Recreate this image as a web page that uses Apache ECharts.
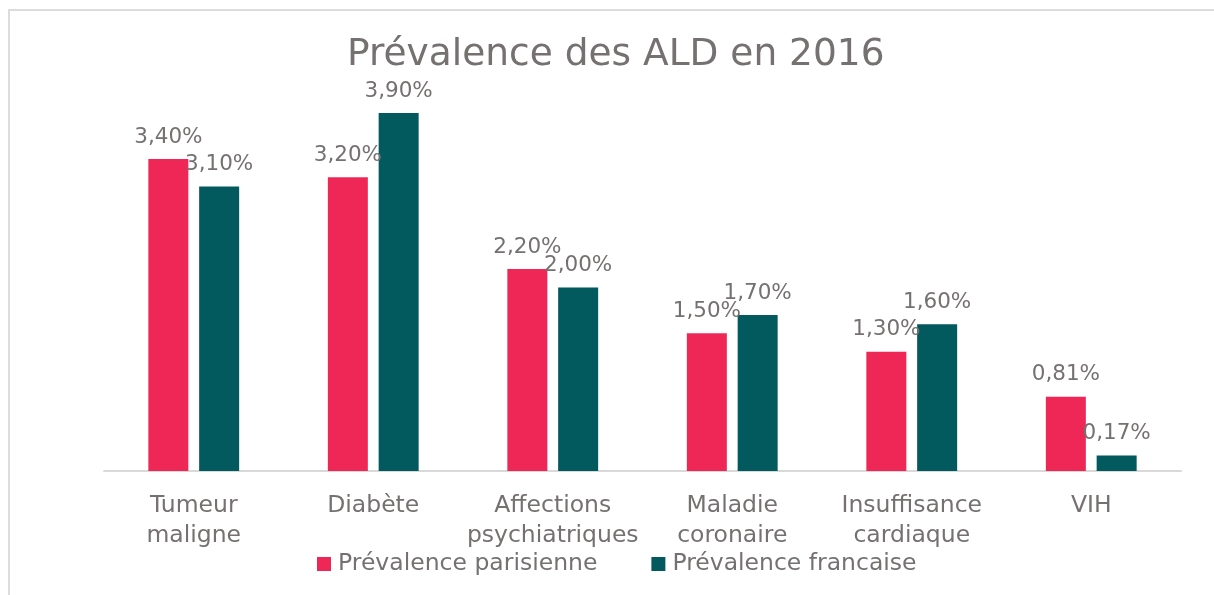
<!DOCTYPE html>
<html>
<head>
<meta charset="utf-8">
<script src="https://cdn.jsdelivr.net/npm/echarts@6/dist/echarts.min.js"></script>
<style>
  html, body { margin: 0; padding: 0; background: #fff; overflow: hidden; width: 1214px; height: 595px; }
  .edge { position: absolute; background: #dcdcdc; }
  #edgeTop { left: 8px; top: 9px; width: 1206px; height: 2px; }
  #edgeLeft { left: 8px; top: 9px; width: 2px; height: 586px; }
  #chart { position: absolute; left: 0; top: 0; width: 1214px; height: 595px; }
</style>
</head>
<body>
<div class="edge" id="edgeTop"></div>
<div class="edge" id="edgeLeft"></div>
<div id="chart"></div>
<script>
// données
const categories = ['Tumeur maligne', 'Diabète', 'Affections psychiatriques', 'Maladie coronaire', 'Insuffisance cardiaque', 'VIH'];
const parisValues = [3.40, 3.20, 2.20, 1.50, 1.30, 0.81];
const franceValues = [3.10, 3.90, 2.00, 1.70, 1.60, 0.17];
const seriesNames = ['Prévalence parisienne', 'Prévalence francaise'];

const textColor = '#767171';
const font = 'DejaVu Sans, Verdana, sans-serif';

function pct(v) {
  return v.toFixed(2).replace('.', ',') + '%';
}

const chart = echarts.init(document.getElementById('chart'));

const barLabel = {
  show: true,
  position: 'top',
  distance: 11,
  color: textColor,
  fontFamily: font,
  fontSize: 21.5,
  formatter: p => pct(p.value)
};

chart.setOption({
  animation: false,
  title: {
    text: 'Prévalence des ALD en 2016',
    left: 342,
    top: 31,
    textStyle: { color: textColor, fontFamily: font, fontSize: 37.5, fontWeight: 'normal' }
  },
  legend: {
    data: seriesNames,
    top: 547,
    left: 312,
    itemWidth: 14,
    itemHeight: 14,
    itemGap: 54,
    icon: 'rect',
    textStyle: { color: textColor, fontFamily: font, fontSize: 23.5, padding: [0, 0, 0, 2] }
  },
  grid: { left: 104, right: 33, top: 58, bottom: 124 },
  xAxis: {
    type: 'category',
    data: categories,
    axisLine: { lineStyle: { color: '#d9d9d9', width: 2 } },
    axisTick: { show: false },
    axisLabel: {
      color: textColor,
      fontFamily: font,
      fontSize: 23.5,
      lineHeight: 30,
      margin: 20,
      interval: 0,
      formatter: v => v.replace(' ', '\n')
    }
  },
  yAxis: {
    type: 'value',
    min: 0,
    max: 4.5,
    show: false,
    splitLine: { show: false }
  },
  series: [
    {
      name: seriesNames[0],
      type: 'bar',
      data: parisValues,
      itemStyle: { color: '#EE2756' },
      barWidth: 40,
      barGap: '27%',
      label: barLabel
    },
    {
      name: seriesNames[1],
      type: 'bar',
      data: franceValues,
      itemStyle: { color: '#02595E' },
      barWidth: 40,
      label: barLabel
    }
  ]
});
</script>
</body>
</html>
